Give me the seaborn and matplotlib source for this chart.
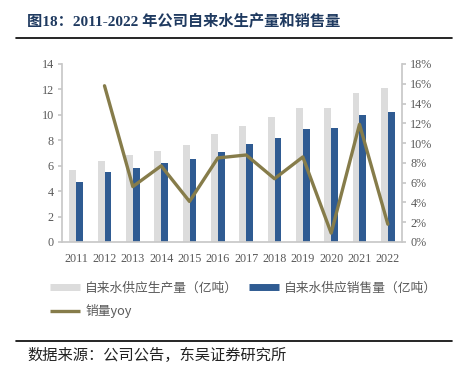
import matplotlib
matplotlib.use("Agg")
import matplotlib.pyplot as plt
import seaborn as sns
import pandas as pd
from matplotlib.lines import Line2D
from matplotlib.ticker import FuncFormatter, MultipleLocator

years = ["2011", "2012", "2013", "2014", "2015", "2016",
         "2017", "2018", "2019", "2020", "2021", "2022"]
production = [5.66, 6.37, 6.82, 7.19, 7.60, 8.50, 9.15, 9.83, 10.54, 10.57, 11.70, 12.12]
sales = [4.75, 5.51, 5.82, 6.24, 6.53, 7.08, 7.68, 8.18, 8.89, 8.97, 10.02, 10.20]
yoy_years = ["2012", "2013", "2014", "2015", "2016", "2017",
             "2018", "2019", "2020", "2021", "2022"]
yoy = [0.158, 0.056, 0.077, 0.041, 0.085, 0.088, 0.064, 0.086, 0.009, 0.119, 0.018]

name_prod = "自来水供应生产量（亿吨）"
name_sales = "自来水供应销售量（亿吨）"
name_yoy = "销量yoy"
title = "图18：2011-2022 年公司自来水生产量和销售量"
source = "数据来源：公司公告，东吴证券研究所"

c_gray = "#DCDCDC"
c_blue = "#2F5B92"
c_line = "#867C4A"
c_tick = "#595959"
c_spine = "#C8C8C8"

sns.set_theme(style="white")
plt.rcParams["font.family"] = ["Liberation Serif", "Noto Sans CJK SC", "DejaVu Sans"]

df = pd.DataFrame({
    "year": years * 2,
    "value": production + sales,
    "series": [name_prod] * len(years) + [name_sales] * len(years),
})

fig = plt.figure(figsize=(4.58, 3.74), dpi=100)
ax = fig.add_axes([62 / 458, 1 - 242 / 374, (402 - 62) / 458, (242 - 64) / 374])

sns.barplot(data=df, x="year", y="value", hue="series", order=years,
            hue_order=[name_prod, name_sales], palette=[c_gray, c_blue],
            width=0.48, saturation=1, linewidth=0, ax=ax, legend=False)

ax2 = ax.twinx()
xpos = [years.index(y) for y in yoy_years]
sns.lineplot(x=xpos, y=yoy, ax=ax2, color=c_line, linewidth=2.4)

ax.set_xlim(-0.5, len(years) - 0.5)
ax.set_ylim(0, 14)
ax.yaxis.set_major_locator(MultipleLocator(2))
ax2.set_ylim(0, 0.18)
ax2.yaxis.set_major_locator(MultipleLocator(0.02))
ax2.yaxis.set_major_formatter(FuncFormatter(lambda v, p: f"{v * 100:.0f}%"))

for a in (ax, ax2):
    a.set_xlabel("")
    a.set_ylabel("")
    a.grid(False)
    for s in a.spines.values():
        s.set_visible(False)

ax.spines["left"].set_visible(True)
ax.spines["left"].set_color(c_spine)
ax.spines["bottom"].set_visible(True)
ax.spines["bottom"].set_color(c_spine)
ax2.spines["right"].set_visible(True)
ax2.spines["right"].set_color(c_spine)

ax.tick_params(axis="y", left=True, length=3, color=c_spine, labelsize=8.7,
               labelcolor=c_tick, pad=3)
ax.tick_params(axis="x", bottom=False, labelsize=8.7, labelcolor=c_tick, pad=2)
ax2.tick_params(axis="y", right=True, length=3, color=c_spine, labelsize=8.7,
                labelcolor=c_tick, pad=3)

handles = [
    Line2D([0], [0], color=c_gray, linewidth=5, solid_capstyle="butt"),
    Line2D([0], [0], color=c_line, linewidth=2.4, solid_capstyle="butt"),
    Line2D([0], [0], color=c_blue, linewidth=5, solid_capstyle="butt"),
]
labels = [name_prod, name_yoy, name_sales]
fig.legend(handles, labels, loc="upper left", bbox_to_anchor=(38 / 458, 1 - 270 / 374),
           ncol=2, frameon=False, handlelength=2.4, handletextpad=0.4,
           columnspacing=0.8, labelspacing=0.75,
           prop={"family": ["Noto Sans CJK SC", "DejaVu Sans"], "size": 9.2},
           labelcolor=c_tick)

fig.text(27 / 458, 1 - 22 / 374, title, fontsize=11, fontweight="bold",
         color="#1F3A60", va="center", ha="left",
         family=["Liberation Serif", "Noto Sans CJK SC"])
fig.add_artist(Line2D([16 / 458, 452 / 458], [1 - 37.5 / 374, 1 - 37.5 / 374],
                      color="black", linewidth=1.2, transform=fig.transFigure))
fig.add_artist(Line2D([16 / 458, 452 / 458], [1 - 341 / 374, 1 - 341 / 374],
                      color="black", linewidth=1.2, transform=fig.transFigure))
fig.text(27 / 458, 1 - 355 / 374, source, fontsize=11, color="#222222",
         va="center", ha="left", family=["Noto Sans CJK SC", "DejaVu Sans"])

fig.savefig("out.png", dpi=100)
